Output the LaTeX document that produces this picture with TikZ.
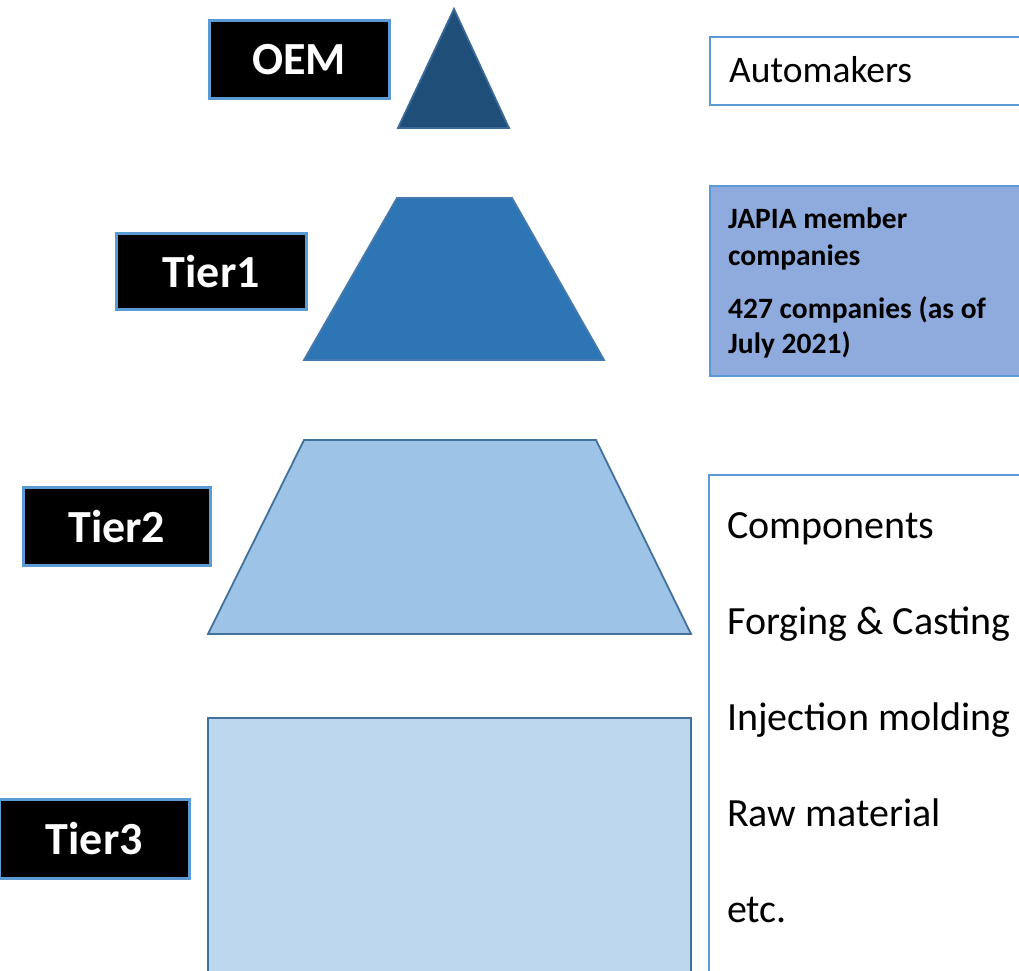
\documentclass[tikz,border=0pt]{standalone}
\usepackage{fontspec}
\setmainfont{Carlito}
\definecolor{lblborder}{HTML}{5B9BD5}
\definecolor{oemfill}{HTML}{1F4E79}
\definecolor{oemline}{HTML}{3C6A98}
\definecolor{t1fill}{HTML}{2E75B6}
\definecolor{t1line}{HTML}{4679AE}
\definecolor{t2fill}{HTML}{9DC3E6}
\definecolor{t3fill}{HTML}{BDD7EE}
\definecolor{shline}{HTML}{41719C}
\definecolor{japiafill}{HTML}{8FAADC}
\tikzset{
  tierlabel/.style={draw=lblborder, line width=2.5pt, fill=black, text=white,
    font=\fontsize{46}{50}\selectfont\bfseries, inner sep=0pt, anchor=north west},
  tiertxt/.style={font=\fontsize{46}{50}\selectfont\bfseries, text=white},
  infobox/.style={draw=lblborder, line width=2.2pt, inner sep=0pt, anchor=north west},
  bigtxt/.style={font=\fontsize{40}{44}\selectfont, anchor=base west, inner sep=0pt},
  autotxt/.style={font=\fontsize{37.5}{44}\selectfont, anchor=base west, inner sep=0pt},
  boldtxt/.style={font=\fontsize{29.5}{36}\selectfont\bfseries, anchor=base west, inner sep=0pt},
  shapeline/.style={line width=1.8pt, line join=miter}
}
\begin{document}
\begin{tikzpicture}[x=1pt,y=-1pt]
\useasboundingbox (0,0) rectangle (1019,970);
\clip (0,0) rectangle (1019,970);
\fill[white] (0,0) rectangle (1019,970);

% pyramid shapes
\draw[shapeline, draw=oemline, fill=oemfill] (454,9) -- (509,128) -- (398,128) -- cycle;
\draw[shapeline, draw=t1line, fill=t1fill] (397,198) -- (512,198) -- (604,360) -- (304,360) -- cycle;
\draw[shapeline, draw=shline, fill=t2fill] (304,440) -- (596,440) -- (691,634) -- (208,634) -- cycle;
\draw[shapeline, draw=shline, fill=t3fill] (208,718) rectangle (691,990);

% tier labels
\node[tierlabel, minimum width=180pt, minimum height=78pt] (oem) at (208,19) {};
\node[tiertxt] (oemt) at (oem.center) {OEM};
\node[tierlabel, minimum width=190pt, minimum height=76pt] (t1) at (115,232) {};
\node[tiertxt] (t1t) at (t1.center) {Tier1};
\node[tierlabel, minimum width=187pt, minimum height=78pt] (t2) at (22,486) {};
\node[tiertxt] (t2t) at (t2.center) {Tier2};
\node[tierlabel, minimum width=190pt, minimum height=79pt] (t3) at (-2,798) {};
\node[tiertxt] (t3t) at (t3.center) {Tier3};

% right info boxes
\node[infobox, fill=white, minimum width=340pt, minimum height=68pt] (auto) at (709,36) {};
\node[autotxt] (autot) at (729,82) {Automakers};

\node[infobox, fill=japiafill, minimum width=340pt, minimum height=190pt] (japia) at (709,185) {};
\node[boldtxt] (j1) at (728,228) {JAPIA member};
\node[boldtxt] (j2) at (728,265) {companies};
\node[boldtxt] (j3) at (728,318) {427 companies (as of};
\node[boldtxt] (j4) at (728,353) {July 2021)};

\node[infobox, fill=white, minimum width=340pt, minimum height=540pt] (parts) at (708,474) {};
\node[bigtxt] (p1) at (727,538) {Components};
\node[bigtxt] (p2) at (727,634) {Forging \& Casting};
\node[bigtxt] (p3) at (727,730) {Injection molding};
\node[bigtxt] (p4) at (727,826) {Raw material};
\node[bigtxt] (p5) at (727,922) {etc.};
\end{tikzpicture}
\end{document}
